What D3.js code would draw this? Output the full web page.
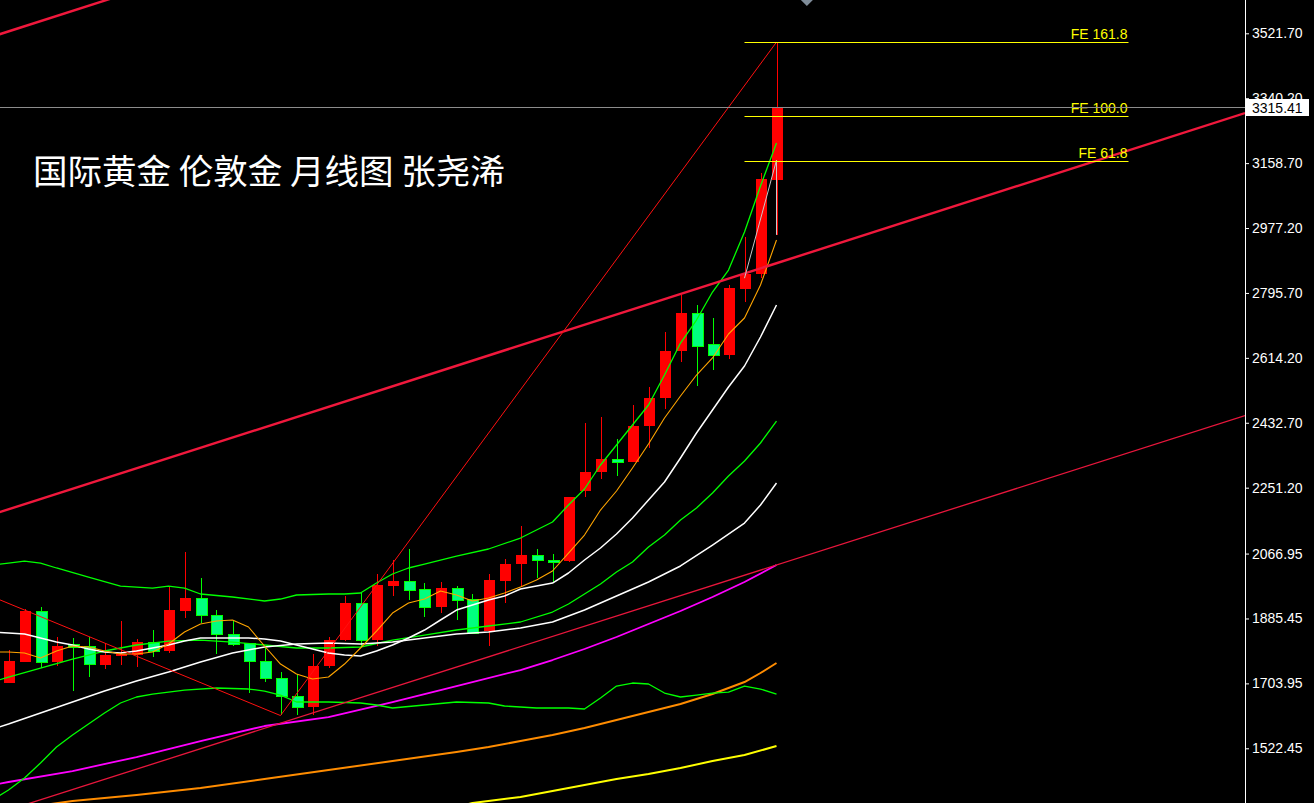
<!DOCTYPE html>
<html><head><meta charset="utf-8">
<script src="https://cdn.jsdelivr.net/npm/d3@7"></script>
<style>html,body{margin:0;padding:0;background:#000;overflow:hidden}svg{display:block}</style>
</head><body><svg id="c" width="1314" height="803"></svg>
<script>
// ---------- data ----------
const months = ["2021-04","2021-05","2021-06","2021-07","2021-08","2021-09","2021-10","2021-11","2021-12",
"2022-01","2022-02","2022-03","2022-04","2022-05","2022-06","2022-07","2022-08","2022-09","2022-10","2022-11","2022-12",
"2023-01","2023-02","2023-03","2023-04","2023-05","2023-06","2023-07","2023-08","2023-09","2023-10","2023-11","2023-12",
"2024-01","2024-02","2024-03","2024-04","2024-05","2024-06","2024-07","2024-08","2024-09","2024-10","2024-11","2024-12",
"2025-01","2025-02","2025-03","2025-04"];
const open  = [1706,1765,1906,1765,1813,1808,1756,1781,1783,1821,1795,1907,1942,1896,1843,1816,1766,1718,1670,1637,1752,1825,1929,1826,1976,1990,1968,1918,1971,1940,1851,1990,2037,2064,2050,2046,2243,2296,2332,2324,2424,2502,2633,2741,2653,2622,2807,2849,3112];
const high  = [1797,1912,1917,1834,1831,1834,1816,1878,1828,1853,1973,2071,1999,1909,1878,1816,1808,1735,1729,1785,1834,1948,1958,2010,2049,2080,1985,1987,1976,1954,2010,2052,2144,2080,2066,2226,2433,2450,2387,2482,2534,2686,2790,2762,2725,2818,2953,3130,3497];
const low   = [1704,1763,1748,1752,1684,1721,1745,1755,1751,1779,1788,1888,1872,1785,1808,1678,1709,1616,1616,1616,1748,1823,1806,1808,1948,1937,1890,1901,1881,1844,1809,1929,1976,1999,1985,2044,2226,2275,2285,2322,2363,2470,2603,2536,2580,2611,2771,2837,2957];
const close = [1766,1906,1765,1808,1805,1757,1782,1785,1820,1795,1909,1942,1896,1843,1813,1766,1718,1670,1637,1752,1825,1929,1826,1979,1990,1965,1918,1971,1937,1845,1993,2038,2063,2049,2046,2224,2296,2331,2324,2424,2503,2633,2739,2648,2622,2809,2849,3114,3315.41];
const lastPrice = 3315.41;

// indicator lines: [month index, price]
const bbUpper = [[-1,2035.0],[0,2040.5],[1,2046.1],[2,2040.5],[3,2026.6],[5,2001.4],[7,1976.2],[9,1970.6],[10,1976.2],[11,1970.6],[12,1953.9],[14,1945.5],[16,1934.3],[17,1939.9],[18,1951.1],[20,1953.9],[21,1953.9],[22,1956.7],[23,1984.6],[24,2009.8],[25,2026.6],[26,2037.7],[28,2060.1],[30,2079.7],[32,2110.4],[34,2155.2],[35,2202.7],[36,2247.5],[37,2314.6],[38,2370.5],[39,2426.4],[40,2482.3],[41,2566.2],[42,2655.7],[43,2720.0],[44,2798.3],[45,2859.8],[46,2966.1],[47,3094.7],[48,3214.9]];
const bbMid = [[-1,1707.8],[0,1721.8],[2,1746.9],[4,1772.1],[6,1794.5],[8,1811.3],[10,1822.4],[12,1825.2],[14,1819.6],[16,1811.3],[18,1802.9],[20,1802.9],[22,1805.7],[24,1825.2],[26,1839.2],[28,1853.2],[30,1864.4],[32,1875.6],[34,1903.5],[35,1925.9],[36,1953.9],[37,1981.8],[38,2015.4],[39,2043.3],[40,2085.3],[41,2118.8],[42,2160.8],[43,2194.3],[44,2236.3],[45,2283.8],[46,2325.7],[47,2376.1],[48,2437.6]];
const bbLower = [[-1,1377.8],[0,1405.8],[1,1439.4],[2,1481.3],[3,1526.0],[4,1559.6],[5,1590.3],[6,1621.1],[7,1649.1],[8,1665.9],[9,1674.2],[10,1679.8],[11,1685.4],[13,1691.0],[15,1688.2],[16,1682.6],[17,1671.4],[18,1651.9],[20,1651.9],[22,1649.1],[23,1643.5],[24,1635.1],[26,1643.5],[28,1651.9],[30,1649.1],[31,1640.7],[33,1635.1],[35,1635.1],[36,1632.3],[37,1663.1],[38,1696.6],[39,1705.0],[40,1702.2],[41,1677.0],[42,1665.9],[43,1671.4],[44,1677.0],[45,1679.8],[46,1696.6],[47,1688.2],[48,1674.2]];
const ma5 = [[-1,1791.7],[0,1791.7],[1,1788.9],[2,1774.9],[3,1794.5],[4,1808.5],[5,1805.7],[6,1794.5],[7,1786.1],[8,1786.1],[9,1791.7],[10,1814.1],[11,1847.6],[12,1870.0],[13,1878.4],[14,1881.2],[15,1861.6],[16,1808.5],[17,1758.1],[18,1730.2],[19,1716.2],[20,1721.8],[21,1758.1],[22,1802.9],[23,1850.4],[24,1900.7],[25,1928.7],[26,1939.9],[27,1962.2],[28,1951.1],[29,1934.3],[30,1942.7],[31,1956.7],[32,1973.4],[33,1993.0],[34,2018.2],[35,2068.5],[36,2118.8],[37,2188.7],[38,2241.9],[39,2306.2],[40,2373.3],[41,2446.0],[42,2507.5],[43,2566.2],[44,2613.8],[45,2680.9],[46,2725.6],[47,2817.9],[48,2943.7]];
const ma10 = [[-1,1847.6],[0,1844.8],[1,1842.0],[2,1830.8],[3,1819.6],[4,1811.3],[5,1800.1],[6,1791.7],[7,1788.9],[8,1794.5],[9,1802.9],[10,1811.3],[11,1822.4],[12,1830.8],[13,1830.8],[14,1830.8],[15,1830.8],[16,1828.0],[17,1822.4],[18,1811.3],[19,1800.1],[20,1788.9],[21,1783.3],[22,1780.5],[23,1794.5],[24,1811.3],[25,1830.8],[26,1853.2],[27,1881.2],[28,1909.1],[29,1923.1],[30,1937.1],[31,1948.3],[32,1967.9],[33,1976.2],[34,1984.6],[35,2012.6],[36,2048.9],[37,2082.5],[38,2121.6],[39,2166.4],[40,2216.7],[41,2267.0],[42,2334.1],[43,2404.0],[44,2468.4],[45,2532.7],[46,2591.4],[47,2672.5],[48,2762.0]];
const ma30 = [[-1,1576.3],[0,1590.3],[2,1621.1],[4,1651.9],[6,1682.6],[8,1710.6],[10,1735.8],[12,1763.7],[14,1788.9],[16,1805.7],[18,1814.1],[20,1816.9],[22,1814.1],[24,1819.6],[26,1830.8],[28,1842.0],[30,1847.6],[32,1858.8],[34,1875.6],[36,1909.1],[38,1948.3],[40,1987.4],[42,2032.2],[44,2090.9],[46,2152.4],[47,2202.7],[48,2264.2]];
const ma60 = [[-1,1419.8],[0,1428.2],[4,1458.9],[8,1498.1],[12,1542.8],[16,1584.8],[20,1609.9],[24,1651.9],[28,1696.6],[32,1741.3],[34,1769.3],[36,1800.1],[38,1833.6],[40,1870.0],[42,1906.3],[44,1945.5],[46,1987.4],[48,2035.0]];
const ma120 = [[-1,1344.3],[4,1375.0],[8,1391.8],[12,1411.4],[16,1436.6],[20,1461.7],[24,1486.9],[28,1512.1],[30,1526.0],[32,1542.8],[34,1559.6],[36,1579.2],[38,1601.5],[40,1623.9],[42,1646.3],[44,1674.2],[46,1707.8],[47,1733.0],[48,1760.9]];
const ma240 = [[27,1347.1],[29,1369.5],[32,1386.2],[36,1419.8],[38,1436.6],[40,1450.5],[42,1467.3],[44,1486.9],[46,1503.7],[48,1528.8]];

// drawn objects
const channelTop = [[0,3527],[48,4215]];
const channelMid = [[0,2190.7],[48,2878.8]];
const channelLow = [[0,1350],[48,2035]];
const zigzag = [[-1,1946],[17,1614],[48,3497]];
const fePoints = [[46,2837],[48,3167],[48,2958]];
const feLabels = ["FE 161.8","FE 100.0","FE 61.8"];
const feValues = [3497,3290,3164];
const feRange = [46,70];
const shiftIndex = 49.9;

const tickValues = [3521.70,3340.20,3158.70,2977.20,2795.70,2614.20,2432.70,2251.20,2066.95,1885.45,1703.95,1522.45];
const title = "国际黄金 伦敦金 月线图 张尧浠";

// ---------- drawing ----------
const W = 1314, H = 803, axisX = 1245;
const svg = d3.select("#c");
svg.append("rect").attr("width", W).attr("height", H).attr("fill", "#000");

const x = d3.scaleLinear().domain([0, 48]).range([8.5, 776.5]);
const y = d3.scaleLinear().domain([1522.45, 3521.70]).range([748.3, 33.3]);

svg.append("defs").append("clipPath").attr("id", "plot")
  .append("rect").attr("x", 0).attr("y", 0).attr("width", axisX).attr("height", H);
const g = svg.append("g").attr("clip-path", "url(#plot)");

// title
g.append("text").attr("x", 33).attr("y", 184)
  .attr("font-family", "'Noto Sans CJK SC','Noto Sans CJK JP',sans-serif")
  .attr("font-size", 34.5).attr("fill", "#fff").text(title);

// candles
const candles = g.append("g").attr("shape-rendering", "crispEdges");
months.forEach((m, i) => {
  const up = close[i] >= open[i];
  const cx = Math.round(x(i));
  const col = up ? "#ff0000" : "#00ff00";
  const yh = Math.round(y(high[i])), yl = Math.round(y(low[i]));
  candles.append("rect").attr("x", cx).attr("y", yh)
    .attr("width", 1).attr("height", Math.max(1, yl - yh)).attr("fill", col);
  const top = Math.round(y(Math.max(open[i], close[i])));
  const bot = Math.round(y(Math.min(open[i], close[i])));
  candles.append("rect").attr("x", cx - 5).attr("y", top)
    .attr("width", 11).attr("height", Math.max(2, bot - top))
    .attr("fill", up ? "#ff0000" : "#00ff7f")
    .attr("stroke", up ? "none" : "#00ff00").attr("stroke-width", 1);
});

// indicator lines
const line = d3.line().x(d => x(d[0])).y(d => y(d[1]));
const drawLine = (data, color, w) => g.append("path").attr("d", line(data))
  .attr("fill", "none").attr("stroke", color).attr("stroke-width", w).attr("stroke-linejoin", "round");

drawLine(ma240, "#ffff00", 2);
drawLine(ma120, "#ff8c00", 2);
drawLine(ma60, "#ff00ff", 1.8);
drawLine(bbLower, "#00ff00", 1.3);
drawLine(bbMid, "#00ff00", 1.3);
drawLine(bbUpper, "#00ff00", 1.3);
drawLine(ma30, "#ffffff", 1.5);
drawLine(ma10, "#ffffff", 1.5);
drawLine(ma5, "#ffa500", 1.1);

// channel lines (extended across the plot)
function extend(pts) {
  const [a, b] = pts;
  const s = (b[1] - a[1]) / (b[0] - a[0]);
  const i0 = x.invert(-2), i1 = x.invert(axisX);
  return [[i0, a[1] + s * (i0 - a[0])], [i1, a[1] + s * (i1 - a[0])]];
}
drawLine(extend(channelLow), "#e8163c", 1.3);
drawLine(extend(channelMid), "#f0183c", 2.4);
drawLine(extend(channelTop), "#f0183c", 2.4);
drawLine(zigzag, "#ff1010", 1);

// FE object
drawLine(fePoints, "#c8c8c8", 1);
feValues.forEach((v, k) => {
  g.append("line").attr("x1", x(feRange[0])).attr("x2", x(feRange[1]))
    .attr("y1", Math.round(y(v)) + 0.5).attr("y2", Math.round(y(v)) + 0.5)
    .attr("stroke", "#ffff00").attr("stroke-width", 1);
  g.append("text").attr("x", x(feRange[1]) - 1).attr("y", Math.round(y(v)) - 3)
    .attr("text-anchor", "end").attr("font-family", "'Liberation Sans',Arial,sans-serif")
    .attr("font-size", 14).attr("fill", "#ffff00").text(feLabels[k]);
});

// bid line
g.append("line").attr("x1", 0).attr("x2", axisX)
  .attr("y1", Math.round(y(lastPrice)) + 0.5).attr("y2", Math.round(y(lastPrice)) + 0.5)
  .attr("stroke", "#8c8c8c").attr("stroke-width", 1);

// chart shift marker
const sx = x(shiftIndex);
g.append("path").attr("d", `M${sx - 6},0 L${sx + 6},0 L${sx},6 Z`).attr("fill", "#7f8c99");

// y axis
svg.append("line").attr("x1", axisX + 0.5).attr("x2", axisX + 0.5).attr("y1", 0).attr("y2", H)
  .attr("stroke", "#fff").attr("stroke-width", 1);
const axis = d3.axisRight(y).tickValues(tickValues).tickFormat(d3.format(".2f"))
  .tickSize(4).tickSizeOuter(0).tickPadding(3);
const ag = svg.append("g").attr("transform", `translate(${axisX},0)`).call(axis);
ag.select(".domain").remove();
ag.selectAll(".tick line").attr("stroke", "#fff");
ag.selectAll(".tick text").attr("fill", "#fff")
  .attr("font-family", "'Liberation Sans',Arial,sans-serif").attr("font-size", 14);

// last price label (covers the neighbouring tick label, as in the terminal)
const py = y(lastPrice);
svg.append("rect").attr("x", axisX + 1).attr("y", Math.round(py) - 8)
  .attr("width", 63).attr("height", 17).attr("fill", "#fff");
svg.append("text").attr("x", axisX + 7).attr("y", Math.round(py) + 6)
  .attr("font-family", "'Liberation Sans',Arial,sans-serif").attr("font-size", 14)
  .attr("fill", "#000").text(d3.format(".2f")(lastPrice));
</script></body></html>
